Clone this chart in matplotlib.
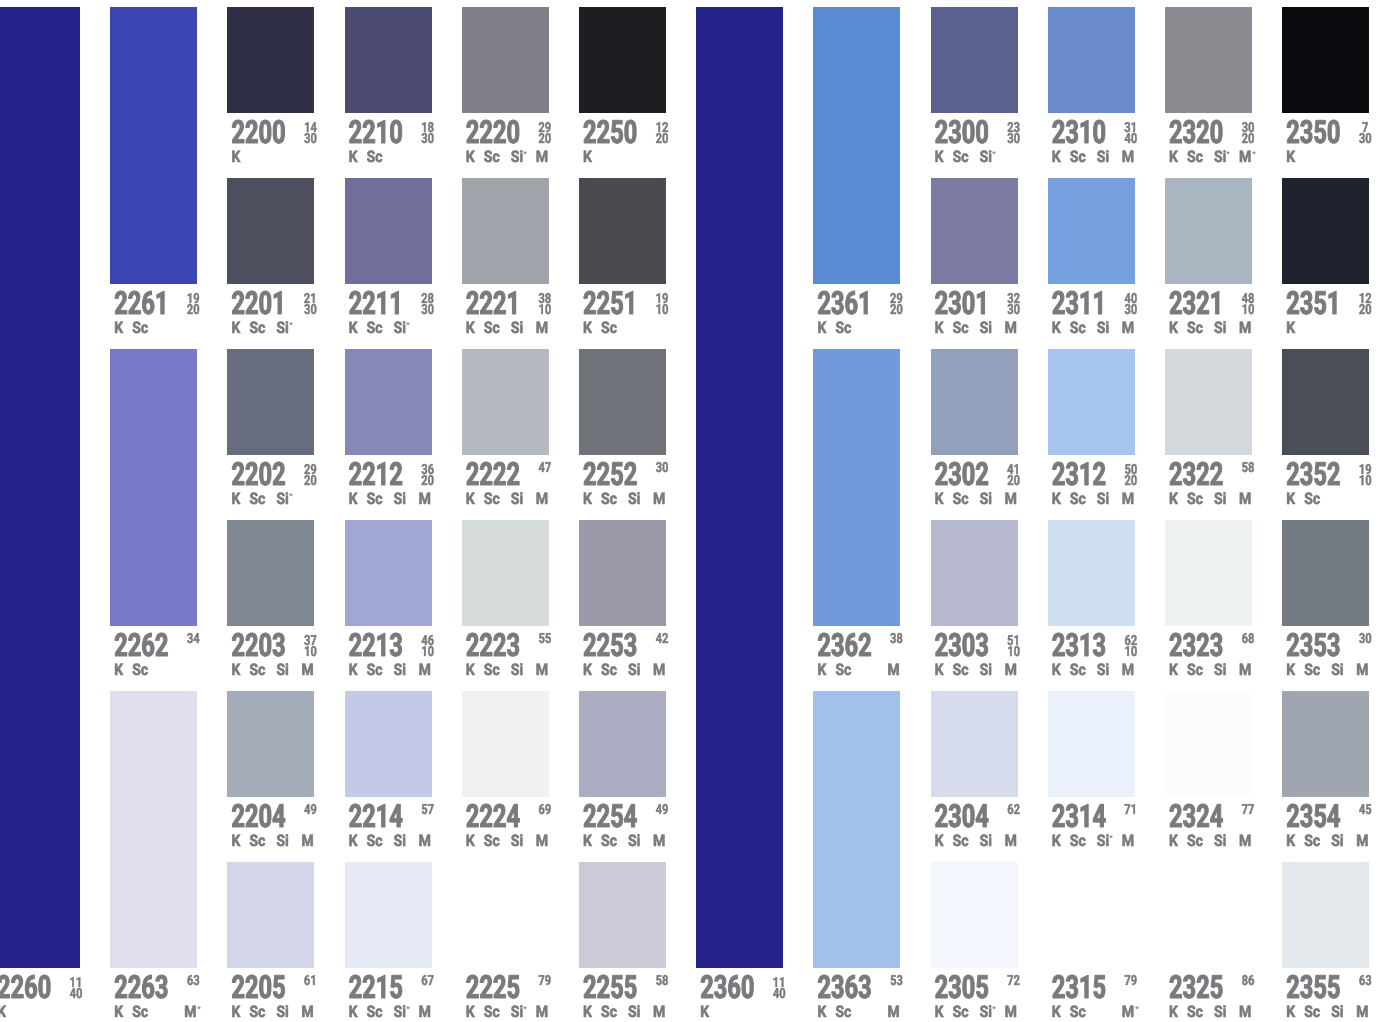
import matplotlib
matplotlib.use('Agg')
import matplotlib.pyplot as plt
from matplotlib.patheffects import AbstractPathEffect
from matplotlib.transforms import Affine2D

# tall bars that run through all six rows
tall_codes = ['2260', '2360']
tall_cols = [0, 6]
tall_colors = ['#25228a', '#26238b']
tall_fracs = ['11/40', '11/40']
tall_marks = ['K', 'K']

# double-height swatches (two rows each)
double_codes = ['2261', '2262', '2263', '2361', '2362', '2363']
double_cols = [1, 1, 1, 7, 7, 7]
double_rows = [0, 2, 4, 0, 2, 4]
double_colors = ['#3a45b2', '#7779c9', '#dfdeee', '#5b8ad4', '#7199dc', '#a3c0eb']
double_fracs = ['19/20', '34', '63', '29/20', '38', '53']
double_marks = ['K Sc', 'K Sc', 'K Sc - M*', 'K Sc', 'K Sc - M', 'K Sc - M']

# single swatches, one column of six per family
single_cols = [2, 3, 4, 5, 8, 9, 10, 11]
single_codes = [
    ['2200', '2201', '2202', '2203', '2204', '2205'],
    ['2210', '2211', '2212', '2213', '2214', '2215'],
    ['2220', '2221', '2222', '2223', '2224', '2225'],
    ['2250', '2251', '2252', '2253', '2254', '2255'],
    ['2300', '2301', '2302', '2303', '2304', '2305'],
    ['2310', '2311', '2312', '2313', '2314', '2315'],
    ['2320', '2321', '2322', '2323', '2324', '2325'],
    ['2350', '2351', '2352', '2353', '2354', '2355'],
]
single_colors = [
    ['#2f3048', '#4d4e5e', '#676c7e', '#808894', '#a4acb9', '#d3d5e8'],
    ['#4b4b72', '#716e9c', '#8788b8', '#a2a6d2', '#c5c9e8', '#e6eaf6'],
    ['#808089', '#9fa3aa', '#b4b9c2', '#d6dcdc', '#eff1f3', '#ffffff'],
    ['#1e1e22', '#4a4a50', '#707279', '#9a9aaa', '#abadc2', '#cdcbd9'],
    ['#5b6290', '#7a7aa2', '#92a0bc', '#b6b8d0', '#d6dcec', '#f3f6fc'],
    ['#6a8ccc', '#76a0e0', '#a7c4ee', '#cfe0f4', '#ecf2fb', '#ffffff'],
    ['#8a8c92', '#a9b6c2', '#d2d8dc', '#eff2f2', '#fcfcfc', '#ffffff'],
    ['#0b0b10', '#1e222c', '#4a4e56', '#747a82', '#a0a6b0', '#e2e8ec'],
]
single_fracs = [
    ['14/30', '21/30', '29/20', '37/10', '49', '61'],
    ['18/30', '28/30', '36/20', '46/10', '57', '67'],
    ['29/20', '38/10', '47', '55', '69', '79'],
    ['12/20', '19/10', '30', '42', '49', '58'],
    ['23/30', '32/30', '41/20', '51/10', '62', '72'],
    ['31/40', '40/30', '50/20', '62/10', '71', '79'],
    ['30/20', '48/10', '58', '68', '77', '86'],
    ['7/30', '12/20', '19/10', '30', '45', '63'],
]
single_marks = [
    ['K', 'K Sc Si*', 'K Sc Si*', 'K Sc Si M', 'K Sc Si M', 'K Sc Si M'],
    ['K Sc', 'K Sc Si*', 'K Sc Si M', 'K Sc Si M', 'K Sc Si M', 'K Sc Si* M'],
    ['K Sc Si* M', 'K Sc Si M', 'K Sc Si M', 'K Sc Si M', 'K Sc Si M', 'K Sc Si* M'],
    ['K', 'K Sc', 'K Sc Si M', 'K Sc Si M', 'K Sc Si M', 'K Sc Si M'],
    ['K Sc Si*', 'K Sc Si M', 'K Sc Si M', 'K Sc Si M', 'K Sc Si M', 'K Sc Si* M'],
    ['K Sc Si M', 'K Sc Si M', 'K Sc Si M', 'K Sc Si M', 'K Sc Si* M', 'K Sc - M*'],
    ['K Sc Si* M*', 'K Sc Si M', 'K Sc Si M', 'K Sc Si M', 'K Sc Si M', 'K Sc Si M'],
    ['K', 'K', 'K Sc', 'K Sc Si M', 'K Sc Si M', 'K Sc Si M'],
]

# layout in pixels
W, H = 1382, 1022
col_x0, col_pitch, sw_w = -7, 117.2, 87
row_y0, row_pitch, sw_h = 7, 171, 106
grey = '#7a7a7e'
font = ['Roboto', 'DejaVu Sans']
slot_dx = [0, 18, 45, 70]


class Condense(AbstractPathEffect):
    """squeeze glyphs horizontally and thicken them a bit (print uses a heavy condensed face)"""
    def __init__(self, sx, center=False, stroke=0.0):
        super().__init__()
        self.sx = sx
        self.center = center
        self.stroke = stroke

    def draw_path(self, renderer, gc, tpath, affine, rgbFace=None):
        cx = 0.0
        if self.center:
            ext = tpath.get_extents()
            cx = (ext.x0 + ext.x1) / 2
        squeeze = Affine2D().translate(-cx, 0).scale(self.sx, 1.0).translate(cx, 0)
        gc0 = renderer.new_gc()
        gc0.copy_properties(gc)
        if self.stroke > 0:
            gc0.set_linewidth(self.stroke)
            gc0.set_foreground(rgbFace)
            gc0.set_joinstyle('round')
        renderer.draw_path(gc0, tpath, squeeze + affine, rgbFace)
        gc0.restore()


num_fx = [Condense(0.74, stroke=0.7)]
frac_fx = [Condense(0.80, center=True, stroke=0.3)]
mark_fx = [Condense(0.88, stroke=0.4)]

fig = plt.figure(figsize=(W / 100, H / 100), dpi=100)
ax = fig.add_axes([0, 0, 1, 1])
ax.set_xlim(0, W)
ax.set_ylim(H, 0)
ax.axis('off')


def draw_label(x, base, code, frac, marks):
    ax.text(x, base, code, fontsize=23, fontweight='bold', color=grey,
            family=font, ha='left', va='baseline', path_effects=num_fx)
    parts = frac.split('/')
    fx = x + 79
    if len(parts) == 2:
        ax.text(fx, base - 11, parts[0], fontsize=10, fontweight='bold', color=grey,
                family=font, ha='center', va='baseline', path_effects=frac_fx)
        ax.text(fx, base, parts[1], fontsize=10, fontweight='bold', color=grey,
                family=font, ha='center', va='baseline', path_effects=frac_fx)
    else:
        ax.text(fx, base - 13, parts[0], fontsize=10, fontweight='bold', color=grey,
                family=font, ha='center', va='baseline', path_effects=frac_fx)
    for slot, m in enumerate(marks.split()):
        if m == '-':
            continue
        name = m.rstrip('*')
        lx = x + slot_dx[slot]
        ax.text(lx, base + 19, name, fontsize=11.5, fontweight='bold', color=grey,
                family=font, ha='left', va='baseline', path_effects=mark_fx)
        if m.endswith('*'):
            sx = 12 if name == 'Si' else 13
            ax.text(lx + sx, base + 13, '*', fontsize=6, fontweight='bold',
                    color=grey, family=font, ha='left', va='baseline')


def swatch(col, row, nrows, color):
    left = col_x0 + col * col_pitch
    top = row_y0 + row * row_pitch
    height = (nrows - 1) * row_pitch + sw_h
    ax.bar(left, height, width=sw_w, bottom=top, align='edge', color=color,
           linewidth=0)
    return left + 4, top + height + 30


for code, col, color, frac, marks in zip(tall_codes, tall_cols, tall_colors, tall_fracs, tall_marks):
    lx, base = swatch(col, 0, 6, color)
    draw_label(lx, base, code, frac, marks)

for code, col, row, color, frac, marks in zip(double_codes, double_cols, double_rows,
                                               double_colors, double_fracs, double_marks):
    lx, base = swatch(col, row, 2, color)
    draw_label(lx, base, code, frac, marks)

for i, col in enumerate(single_cols):
    for row in range(6):
        lx, base = swatch(col, row, 1, single_colors[i][row])
        draw_label(lx, base, single_codes[i][row], single_fracs[i][row], single_marks[i][row])

fig.savefig('out.png', dpi=100, facecolor='white')
